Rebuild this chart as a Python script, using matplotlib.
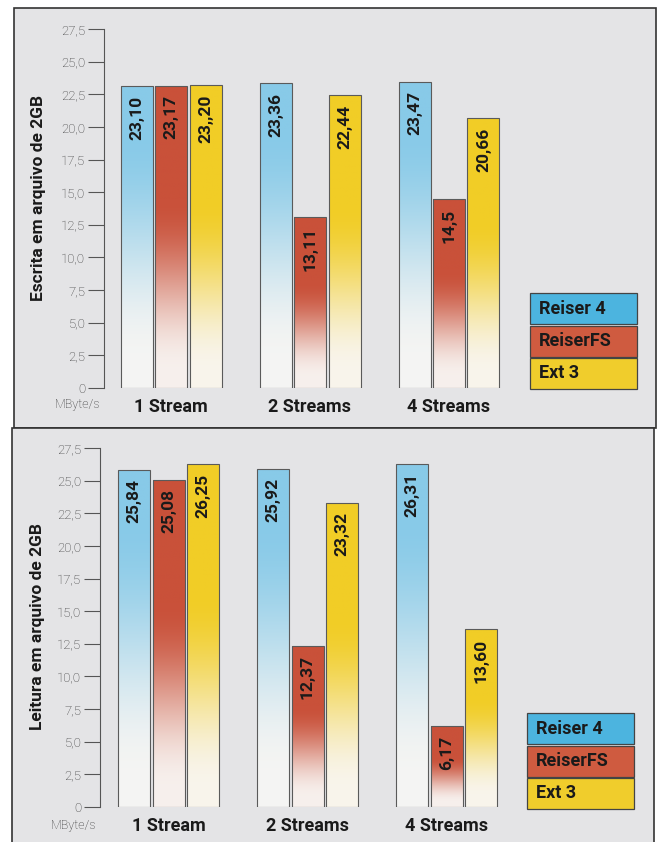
import numpy as np
import matplotlib
matplotlib.use('Agg')
import matplotlib.pyplot as plt
from matplotlib import colors as mcolors
from matplotlib.patches import Rectangle

# dados
groups = ['1 Stream', '2 Streams', '4 Streams']
systems = ['Reiser 4', 'ReiserFS', 'Ext 3']

escrita_reiser4 = [23.10, 23.36, 23.47]
escrita_reiserfs = [23.17, 13.11, 14.5]
escrita_ext3 = [23.20, 22.44, 20.66]
escrita_labels = [['23,10', '23,36', '23,47'],
                  ['23,17', '13,11', '14,5'],
                  ['23,,20', '22,44', '20,66']]

leitura_reiser4 = [25.84, 25.92, 26.31]
leitura_reiserfs = [25.08, 12.37, 6.17]
leitura_ext3 = [26.25, 23.32, 13.60]
leitura_labels = [['25,84', '25,92', '26,31'],
                  ['25,08', '12,37', '6,17'],
                  ['26,25', '23,32', '13,60']]

yticks = [0, 2.5, 5, 7.5, 10, 12.5, 15, 17.5, 20, 22.5, 25, 27.5]
ytick_labels = ['0', '2,5', '5,0', '7,5', '10,0', '12,5', '15,0', '17,5',
                '20,0', '22,5', '25,0', '27,5']

bar_colors = ['#88cae8', '#c9513a', '#f1cd26']
legend_colors = ['#4cb4df', '#cf5b40', '#f0cd2c']
# faixa do degradê (fração da altura da barra)
fade = [(0.10, 0.85), (0.06, 0.62), (0.06, 0.62)]

plt.rcParams['font.family'] = ['Roboto', 'DejaVu Sans']

W, H = 661, 842
fig = plt.figure(figsize=(W / 100, H / 100), dpi=100)
fig.patch.set_facecolor('white')


def fx(px):
    return px / W


def fy(py):
    return 1 - py / H


# fundos dos painéis
fig.patches.append(Rectangle((fx(14), fy(428)), (656 - 14) / W, (428 - 8) / H,
                             transform=fig.transFigure, fc='#e4e4e6', ec='#333333', lw=1.2, zorder=-2))
fig.patches.append(Rectangle((fx(12), fy(850)), (654 - 12) / W, (850 - 428) / H,
                             transform=fig.transFigure, fc='#e4e4e6', ec='#333333', lw=1.2, zorder=-2))

step = 139.0
bw = 32 / step
off = 34.5 / step
base = np.array([0.975, 0.965, 0.955])


def gradient(color, lo, hi):
    rgb = np.array(mcolors.to_rgb(color))
    t = np.linspace(1, 0, 256)[:, None]
    m = np.clip((t - lo) / (hi - lo), 0, 1)
    m = m * m * (3 - 2 * m)
    m = 0.04 + 0.96 * m
    return (base + (rgb - base) * m)[:, None, :]


def panel(left, bottom0, top275, center0, series, labels, ylabel, ylab_x, ylab_y,
          unit_xy, legend_x, legend_y):
    right = left + 416
    ax = fig.add_axes([fx(left), fy(bottom0), (right - left) / W, (bottom0 - top275) / H])
    ax.set_facecolor('none')
    ax.set_zorder(2)
    x = np.arange(len(groups))
    for k, vals in enumerate(series):
        bars = ax.bar(x + (k - 1) * off, vals, bw, color='none', edgecolor='#5a5a5a',
                      linewidth=0.8, zorder=3)
        for b, lab in zip(bars, labels[k]):
            im = ax.imshow(gradient(bar_colors[k], *fade[k]), aspect='auto', interpolation='bilinear',
                           extent=[b.get_x(), b.get_x() + b.get_width(), 0, b.get_height()],
                           zorder=2)
            im.set_clip_path(b)
            ax.annotate(lab, (b.get_x() + b.get_width() / 2, b.get_height()),
                        xytext=(0, -7), textcoords='offset points', rotation=90,
                        ha='center', va='top', fontsize=12.5, fontweight='bold',
                        color='#1a1a1a', zorder=4)
    x0 = (left - center0) / step
    ax.set_xlim(x0, x0 + 416 / step)
    ax.set_ylim(0, 27.5)
    for s in ['top', 'right', 'bottom']:
        ax.spines[s].set_visible(False)
    ax.spines['left'].set_color('#555555')
    ax.spines['left'].set_linewidth(0.8)
    ax.set_yticks(yticks, ytick_labels)
    ax.tick_params(axis='y', length=11.5, width=0.8, color='#555555', pad=2,
                   labelsize=9.5, labelcolor='#333333')
    for t in ax.get_yticklabels():
        t.set_fontweight('light')
    ax.set_xticks(x, groups)
    ax.tick_params(axis='x', length=0, pad=7, labelsize=13, labelcolor='#1a1a1a')
    for t in ax.get_xticklabels():
        t.set_fontweight('bold')
    ax.set_ylabel(ylabel, fontsize=12.5, fontweight='bold', color='#1a1a1a')
    ax.yaxis.set_label_coords(ylab_x, ylab_y)
    fig.text(fx(unit_xy[0]), fy(unit_xy[1]), 'MByte/s', ha='center', va='center',
             fontsize=9, color='#333333', fontweight='light')
    # legenda
    for k, name in enumerate(systems):
        yt = legend_y + k * 32.5
        fig.patches.append(Rectangle((fx(legend_x), fy(yt + 31)), 107 / W, 31 / H,
                                     transform=fig.transFigure, fc=legend_colors[k],
                                     ec='#444444', lw=0.9, zorder=1))
        fig.text(fx(legend_x + 9), fy(yt + 15.5), name, ha='left', va='center',
                 fontsize=13, fontweight='bold', color='#1a1a1a')
    return ax


panel(104, 388, 29, 171, [escrita_reiser4, escrita_reiserfs, escrita_ext3], escrita_labels,
      'Escrita em arquivo de 2GB', -0.14, 0.53, (78, 404), 530, 293)
panel(100, 807, 448, 168.5, [leitura_reiser4, leitura_reiserfs, leitura_ext3], leitura_labels,
      'Leitura em arquivo de 2GB', -0.132, 0.504, (73, 825), 527, 713)

fig.savefig('out.png', dpi=100)
